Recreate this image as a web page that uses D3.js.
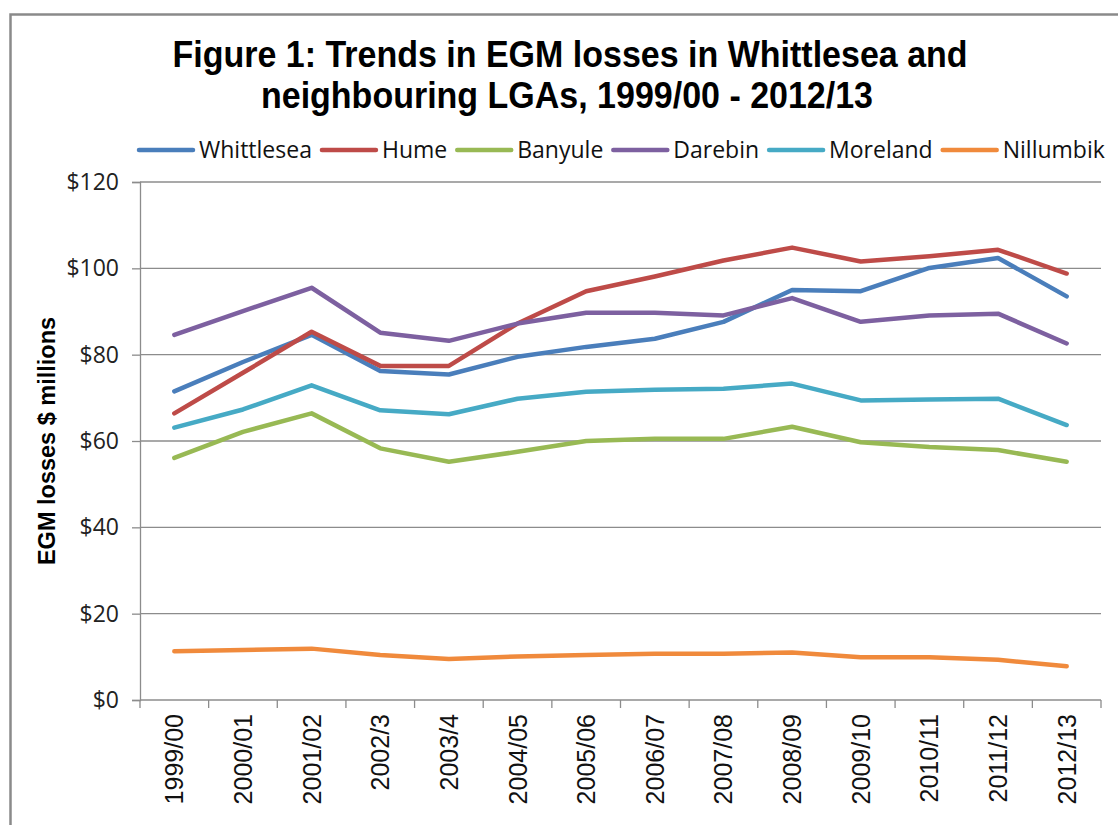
<!DOCTYPE html>
<html>
<head>
<meta charset="utf-8">
<script src="https://cdn.jsdelivr.net/npm/d3@7"></script>
<style>
  body { margin: 0; background: #fff; }
</style>
</head>
<body>
<div id="chart"></div>
<script>
// categories and series ($ millions)
const years = ["1999/00", "2000/01", "2001/02", "2002/3", "2003/4", "2004/05", "2005/06",
  "2006/07", "2007/08", "2008/09", "2009/10", "2010/11", "2011/12", "2012/13"]
const whittlesea = [71.5, 78.3, 84.6, 76.2, 75.4, 79.5, 81.8, 83.7, 87.6, 95.0, 94.7, 100.1, 102.4, 93.5]
const hume = [66.4, 75.8, 85.3, 77.4, 77.4, 87.2, 94.7, 98.1, 101.8, 104.8, 101.6, 102.8, 104.3, 98.8]
const banyule = [56.1, 62.1, 66.4, 58.3, 55.2, 57.5, 60.0, 60.5, 60.5, 63.3, 59.7, 58.6, 57.9, 55.2]
const darebin = [84.6, 90.1, 95.5, 85.1, 83.2, 87.2, 89.7, 89.7, 89.1, 93.1, 87.6, 89.1, 89.5, 82.6]
const moreland = [63.1, 67.3, 72.9, 67.1, 66.2, 69.8, 71.4, 71.9, 72.1, 73.3, 69.4, 69.6, 69.8, 63.7]
const nillumbik = [11.3, 11.6, 11.9, 10.4, 9.5, 10.1, 10.4, 10.7, 10.7, 11.0, 9.9, 9.9, 9.3, 7.8]
const seriesNames = ["Whittlesea", "Hume", "Banyule", "Darebin", "Moreland", "Nillumbik"]
const yTicks = [0, 20, 40, 60, 80, 100, 120]

const series = [whittlesea, hume, banyule, darebin, moreland, nillumbik]
  .map((values, i) => ({ name: seriesNames[i], values }))
const colors = ["#4A7EBB", "#BE4B48", "#98B954", "#7D60A0", "#46AAC5", "#F08A3C"]

const width = 1118, height = 825
const plot = { left: 140, right: 1101, top: 182, bottom: 700 }

const svg = d3.select("#chart")
  .append("svg")
  .attr("width", width)
  .attr("height", height)

svg.append("rect")
  .attr("width", width).attr("height", height)
  .attr("fill", "#fff")

// outer chart frame (runs off the right and bottom edges)
svg.append("rect")
  .attr("x", 10.5).attr("y", 14.5)
  .attr("width", 1300).attr("height", 1000)
  .attr("fill", "none")
  .attr("stroke", "#8a8a8a")
  .attr("stroke-width", 2.5)

const x = d3.scaleBand(years, [plot.left, plot.right])
const y = d3.scaleLinear([0, 120], [plot.bottom, plot.top])
const cx = d => x(d) + x.bandwidth() / 2

// title (glyphs a little taller than plain Arial, like the original)
const title = svg.append("g")
  .attr("font-family", "'Liberation Sans', Arial, sans-serif")
  .attr("font-weight", "bold")
  .attr("font-size", 34)
  .attr("text-anchor", "middle")
  .attr("fill", "#000")
title.append("text").attr("transform", "translate(570,67) scale(1,1.08)")
  .text("Figure 1: Trends in EGM losses in Whittlesea and")
title.append("text").attr("transform", "translate(567,108) scale(1,1.08)")
  .text("neighbouring LGAs, 1999/00 - 2012/13")

// gridlines
svg.append("g")
  .selectAll("line")
  .data(yTicks.filter(d => d > 0))
  .enter()
  .append("line")
  .attr("x1", plot.left).attr("x2", plot.right)
  .attr("y1", d => y(d)).attr("y2", d => y(d))
  .attr("stroke", "#8c8c8c")
  .attr("stroke-width", 1.3)

// y axis
const yAxis = svg.append("g")
  .attr("transform", "translate(" + plot.left + ",0)")
  .call(d3.axisLeft(y).tickValues(yTicks).tickSize(8).tickPadding(13)
    .tickFormat(d => "$" + d))
yAxis.select(".domain").attr("stroke", "#8c8c8c").attr("stroke-width", 1.3)
yAxis.selectAll(".tick line").attr("stroke", "#8c8c8c").attr("stroke-width", 1.3)
yAxis.selectAll(".tick text")
  .attr("font-family", "'Open Sans', sans-serif")
  .attr("font-size", 23)
  .attr("fill", "#222")

// x axis: ticks on category boundaries, labels rotated
const xAxis = svg.append("g")
xAxis.append("line")
  .attr("x1", plot.left).attr("x2", plot.right)
  .attr("y1", plot.bottom).attr("y2", plot.bottom)
  .attr("stroke", "#8c8c8c").attr("stroke-width", 1.3)
xAxis.selectAll(".btick")
  .data(years.map(d => x(d)).concat([plot.right]))
  .enter()
  .append("line")
  .attr("x1", d => d).attr("x2", d => d)
  .attr("y1", plot.bottom).attr("y2", plot.bottom + 8)
  .attr("stroke", "#8c8c8c").attr("stroke-width", 1.3)
xAxis.selectAll("text")
  .data(years)
  .enter()
  .append("text")
  .attr("transform", d => "translate(" + cx(d) + "," + (plot.bottom + 14) + ") rotate(-90)")
  .attr("text-anchor", "end")
  .attr("dy", "0.36em")
  .attr("font-family", "'Liberation Sans', Arial, sans-serif")
  .attr("font-size", 25)
  .attr("fill", "#111")
  .text(d => d)

// y axis title
svg.append("text")
  .attr("transform", "translate(47," + (plot.top + plot.bottom) / 2 + ") rotate(-90)")
  .attr("text-anchor", "middle")
  .attr("dy", "0.36em")
  .attr("font-family", "'Liberation Sans', Arial, sans-serif")
  .attr("font-weight", "bold")
  .attr("font-size", 23.5)
  .attr("fill", "#000")
  .text("EGM losses $ millions")

// lines
const line = d3.line()
  .x((d, i) => cx(years[i]))
  .y(d => y(d))

svg.append("g")
  .selectAll("path")
  .data(series)
  .enter()
  .append("path")
  .attr("d", d => line(d.values))
  .attr("fill", "none")
  .attr("stroke", (d, i) => colors[i])
  .attr("stroke-width", 4.5)
  .attr("stroke-linejoin", "round")
  .attr("stroke-linecap", "round")

// legend, laid out left to right from measured text widths
const legend = svg.append("g")
  .attr("font-family", "'Open Sans', sans-serif")
  .attr("font-size", 23)
let lx = 139
series.forEach((s, i) => {
  const item = legend.append("g")
  item.append("line")
    .attr("x1", lx).attr("x2", lx + 54)
    .attr("y1", 150).attr("y2", 150)
    .attr("stroke", colors[i])
    .attr("stroke-width", 4.5)
    .attr("stroke-linecap", "round")
  const t = item.append("text")
    .attr("x", lx + 60).attr("y", 150)
    .attr("dy", "0.36em")
    .attr("fill", "#111")
    .text(s.name)
  lx += 60 + t.node().getComputedTextLength() + 10
})
</script>
</body>
</html>
